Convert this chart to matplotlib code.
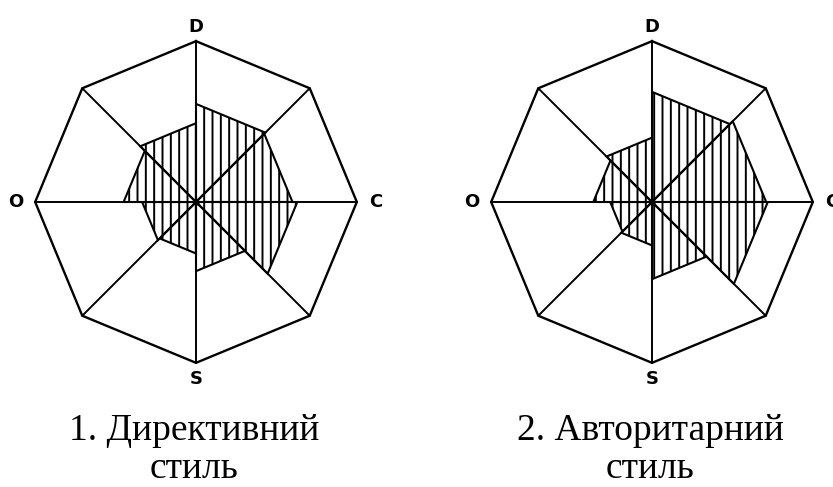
import numpy as np
import matplotlib
matplotlib.use("Agg")
import matplotlib.pyplot as plt
from matplotlib.patches import Polygon

# axis labels at the four main spokes (top, right, bottom, left)
axis_labels = ["D", "C", "S", "O"]

# sector scores as a share of the outer radius, clockwise from D
directive_vals = [0.61, 0.60, 0.63, 0.43, 0.32, 0.335, 0.45, 0.49]
authoritarian_vals = [0.685, 0.71, 0.72, 0.48, 0.27, 0.26, 0.365, 0.40]

captions = ["1. Директивний\nстиль", "2. Авторитарний\nстиль"]

plt.rcParams['hatch.linewidth'] = 1.4

W, H = 833, 487
fig = plt.figure(figsize=(W / 100, H / 100), dpi=100)

angles = np.deg2rad(90 - 45 * np.arange(9))   # spoke angles, clockwise from top


def draw_octagon(ax, vals):
    # hatched sectors
    for i, r in enumerate(vals):
        a1, a2 = angles[i], angles[i + 1]
        pts = [(0, 0), (r * np.cos(a1), r * np.sin(a1)), (r * np.cos(a2), r * np.sin(a2))]
        ax.add_patch(Polygon(pts, closed=True, facecolor="white", edgecolor="black",
                             hatch="||", lw=1.5, joinstyle="miter", zorder=2))
    # outer octagon
    xs, ys = np.cos(angles), np.sin(angles)
    ax.plot(xs, ys, color="black", lw=1.7, zorder=3, solid_joinstyle="miter")
    # spokes
    for a in angles[:8]:
        ax.plot([0, np.cos(a)], [0, np.sin(a)], color="black", lw=1.4, zorder=3)
    ax.plot(0, 0, "o", color="black", ms=3.5, zorder=4)
    # spoke labels
    kw = dict(ha="center", va="center", fontsize=13, fontweight="bold")
    ax.text(0, 1.09, axis_labels[0], **kw)
    ax.text(1.12, 0, axis_labels[1], **kw)
    ax.text(0, -1.1, axis_labels[2], **kw)
    ax.text(-1.12, 0, axis_labels[3], **kw)
    ax.set_xlim(-1.2, 1.2)
    ax.set_ylim(-1.2, 1.2)
    ax.set_aspect("equal")
    ax.axis("off")


size = 386
centers_x = [196, 652]
cy = 202
for k, (vals, cx) in enumerate(zip([directive_vals, authoritarian_vals], centers_x)):
    ax = fig.add_axes([(cx - size / 2) / W, (H - cy - size / 2) / H, size / W, size / H])
    draw_octagon(ax, vals)
    fig.text((cx - 2) / W, 1 - 450 / H, captions[k], ha="center", va="center",
             fontsize=27, family="Liberation Serif", linespacing=1.12)

fig.savefig("out.png", dpi=100)
